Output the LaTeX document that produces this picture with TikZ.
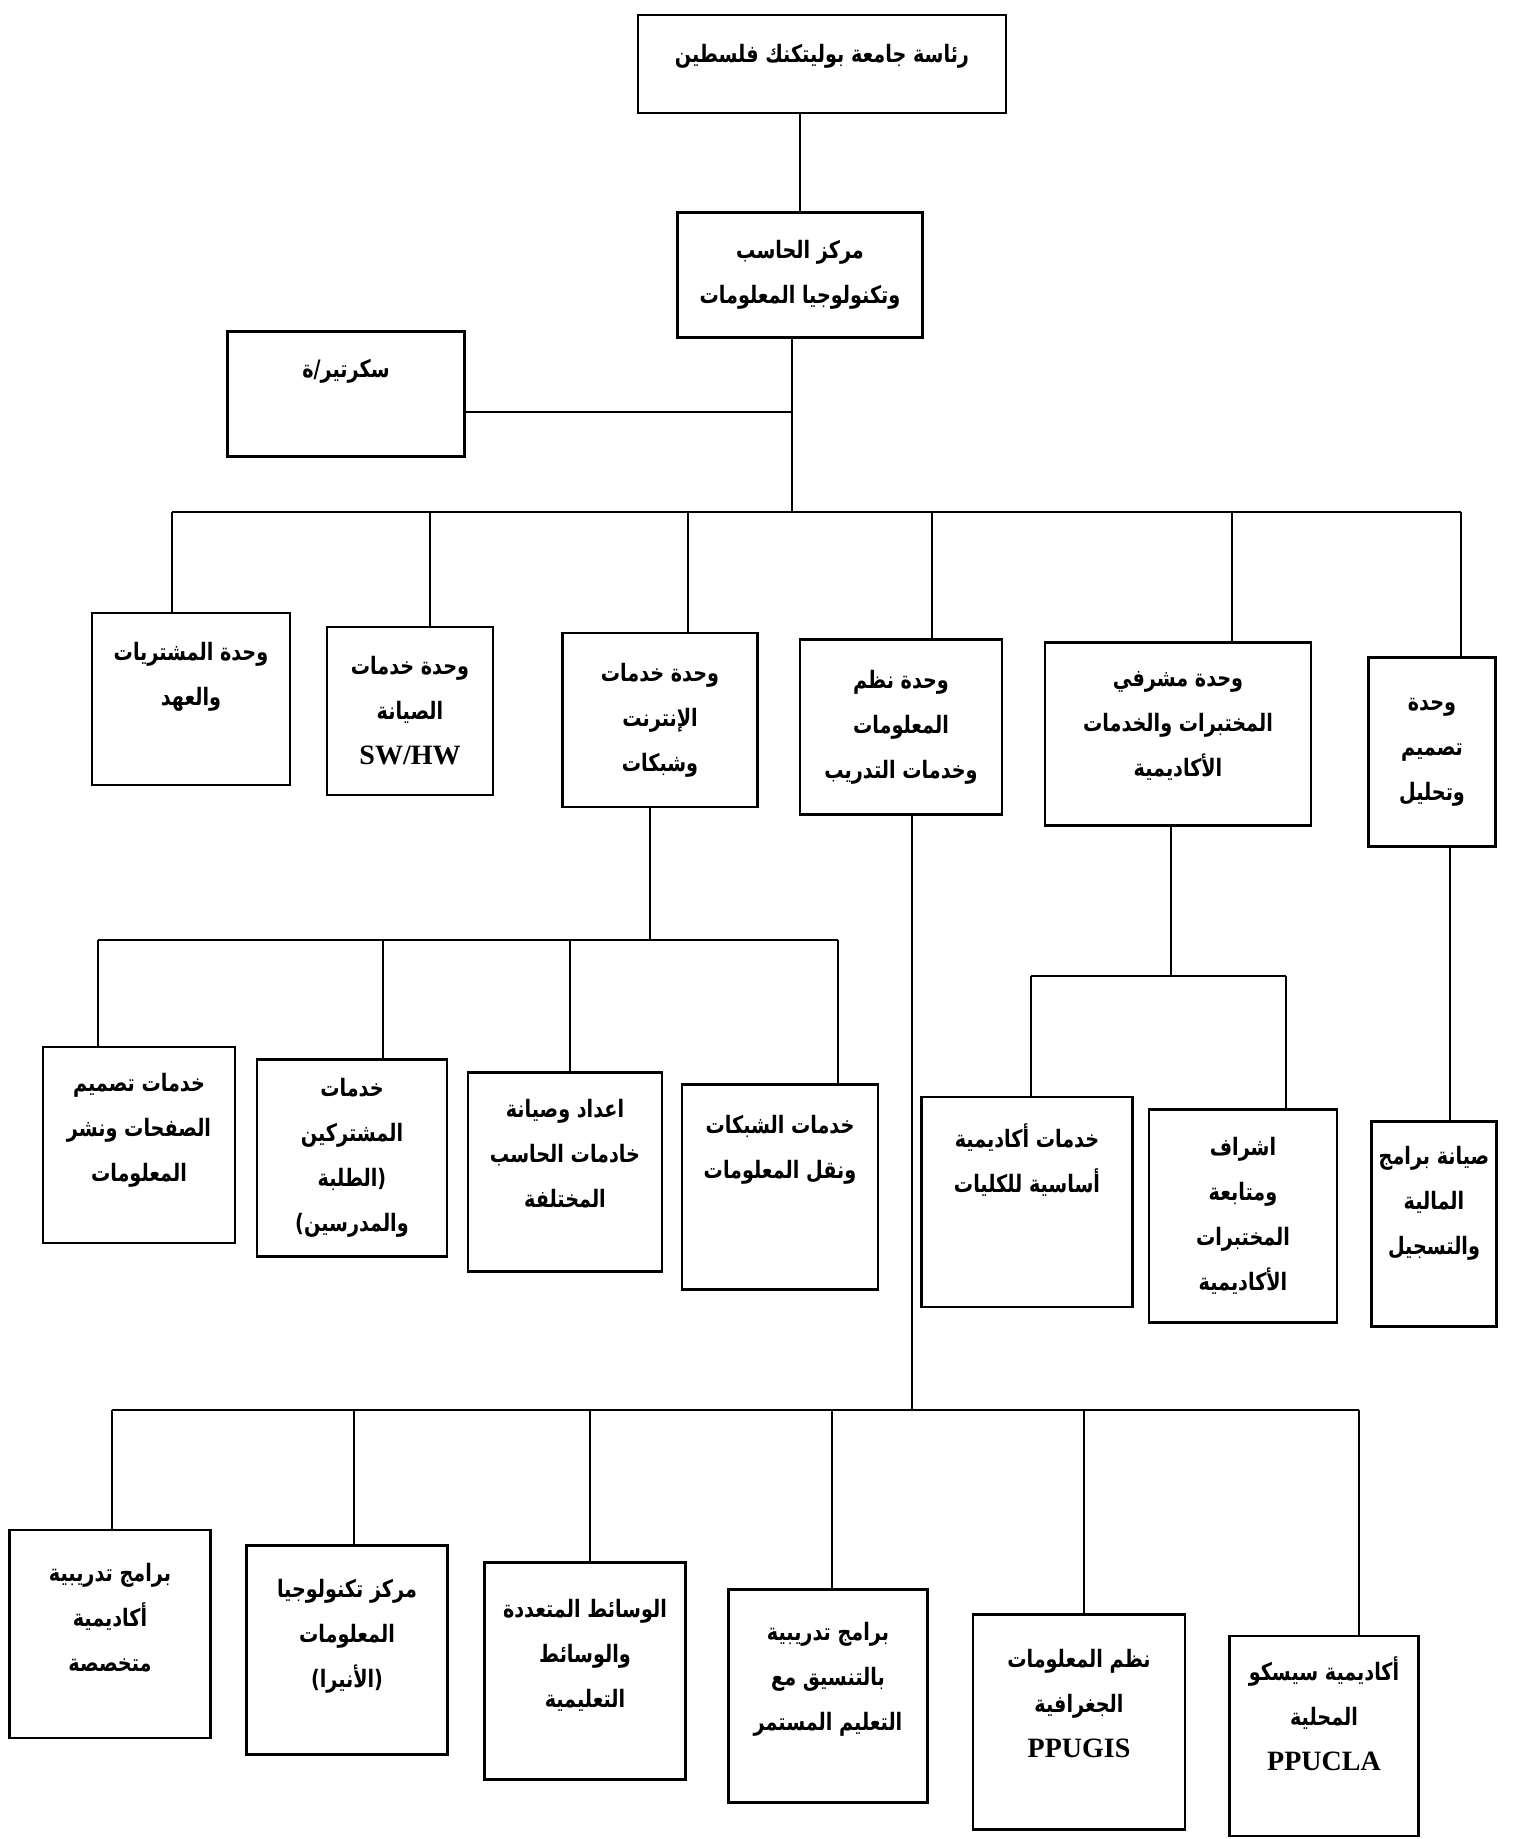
\documentclass[tikz,border=0pt]{standalone}
\usepackage{fontspec}
\setmainfont{DejaVu Sans}
\newfontfamily\arabicfont[Script=Arabic, FakeStretch=0.8]{DejaVu Sans}
\newfontfamily\latinfont{Liberation Serif}
\TeXXeTstate=1
\newcommand{\ar}[1]{\beginR #1\endR}
\newcommand{\lat}[1]{{\latinfont\fontsize{28}{45}\selectfont #1}}
\tikzset{
  unit/.style={draw, line width=2.5pt, align=center, inner sep=4pt,
    font=\arabicfont\bfseries\fontsize{24}{45}\selectfont},
  lift/.style={text depth=#1},
  link/.style={line width=2pt}
}

\begin{document}
\begin{tikzpicture}[x=1pt,y=-1pt]
\useasboundingbox (0,0) rectangle (1514,1839);
% top of the chart
\node[unit, minimum width=368pt, minimum height=98pt, lift=22pt] (top) at (822,64) {\ar{رئاسة جامعة بوليتكنك فلسطين}};
\node[unit, minimum width=245pt, minimum height=125pt] (ctr) at (800,275) {\ar{مركز الحاسب}\\\ar{وتكنولوجيا المعلومات}};
\node[unit, minimum width=237pt, minimum height=125pt, lift=52pt] (sec) at (346,394) {\ar{سكرتير/ة}};

% units
\node[unit, minimum width=198pt, minimum height=172pt, lift=50pt] (pur) at (191,699) {\ar{وحدة المشتريات}\\\ar{والعهد}};
\node[unit, minimum width=166pt, minimum height=168pt] (mnt) at (410,711) {\ar{وحدة خدمات}\\\ar{الصيانة}\\\lat{SW/HW}};
\node[unit, minimum width=195pt, minimum height=174pt] (net) at (660,720) {\ar{وحدة خدمات}\\\ar{الإنترنت}\\\ar{وشبكات}};
\node[unit, minimum width=202pt, minimum height=175pt] (nis) at (901,727) {\ar{وحدة نظم}\\\ar{المعلومات}\\\ar{وخدمات التدريب}};
\node[unit, minimum width=266pt, minimum height=183pt, lift=20pt] (msh) at (1178,734) {\ar{وحدة مشرفي}\\\ar{المختبرات والخدمات}\\\ar{الأكاديمية}};
\node[unit, minimum width=127pt, minimum height=189pt] (tsm) at (1432,752) {\ar{وحدة}\\\ar{تصميم}\\\ar{وتحليل}};

% under internet unit
\node[unit, minimum width=192pt, minimum height=196pt, lift=36pt] (web) at (139,1145) {\ar{خدمات تصميم}\\\ar{الصفحات ونشر}\\\ar{المعلومات}};
\node[unit, minimum width=190pt, minimum height=197pt] (sub) at (352,1158) {\ar{خدمات}\\\ar{المشتركين}\\\ar{(الطلبة}\\\ar{والمدرسين)}};
\node[unit, minimum width=194pt, minimum height=199pt, lift=38pt] (srv) at (565,1172) {\ar{اعداد وصيانة}\\\ar{خادمات الحاسب}\\\ar{المختلفة}};
\node[unit, minimum width=196pt, minimum height=205pt, lift=80pt] (nw) at (780,1187) {\ar{خدمات الشبكات}\\\ar{ونقل المعلومات}};

% under labs unit
\node[unit, minimum width=211pt, minimum height=210pt, lift=88pt] (aca) at (1027,1202) {\ar{خدمات أكاديمية}\\\ar{أساسية للكليات}};
\node[unit, minimum width=188pt, minimum height=213pt] (sup) at (1243,1216) {\ar{اشراف}\\\ar{ومتابعة}\\\ar{المختبرات}\\\ar{الأكاديمية}};
\node[unit, minimum width=125pt, minimum height=205pt, lift=48pt] (fin) at (1434,1224) {\ar{صيانة برامج}\\\ar{المالية}\\\ar{والتسجيل}};

% under information systems unit
\node[unit, minimum width=201pt, minimum height=208pt, lift=34pt] (trn) at (110,1634) {\ar{برامج تدريبية}\\\ar{أكاديمية}\\\ar{متخصصة}};
\node[unit, minimum width=201pt, minimum height=209pt, lift=34pt] (itc) at (347,1650) {\ar{مركز تكنولوجيا}\\\ar{المعلومات}\\\ar{(الأنيرا)}};
\node[unit, minimum width=201pt, minimum height=217pt, lift=36pt] (med) at (585,1671) {\ar{الوسائط المتعددة}\\\ar{والوسائط}\\\ar{التعليمية}};
\node[unit, minimum width=199pt, minimum height=213pt, lift=40pt] (ccp) at (828,1696) {\ar{برامج تدريبية}\\\ar{بالتنسيق مع}\\\ar{التعليم المستمر}};
\node[unit, minimum width=212pt, minimum height=215pt, lift=38pt] (gis) at (1079,1722) {\ar{نظم المعلومات}\\\ar{الجغرافية}\\\lat{PPUGIS}};
\node[unit, minimum width=189pt, minimum height=200pt, lift=44pt] (cis) at (1324,1736) {\ar{أكاديمية سيسكو}\\\ar{المحلية}\\\lat{PPUCLA}};

% connectors
\coordinate (hub) at (792,512);
\coordinate (secj) at (792,412);
\draw[link] (top.south -| ctr.north) -- (ctr.north);
\draw[link] (ctr.south -| hub) -- (hub);
\draw[link] (secj -| sec.east) -- (secj);
\coordinate (busA) at (172,512);
\coordinate (busB) at (1461,512);
\draw[link] (busA) -- (busB);
\foreach \x/\n in {172/pur,430/mnt,688/net,932/nis,1232/msh,1461/tsm}
  \draw[link] (\x,512) -- (\n.north -| \x,0);

\coordinate (busC) at (98,940);
\coordinate (busD) at (838,940);
\draw[link] (net.south -| 650,0) -- (650,940);
\draw[link] (busC) -- (busD);
\foreach \x/\n in {98/web,383/sub,570/srv,838/nw}
  \draw[link] (\x,940) -- (\n.north -| \x,0);

\coordinate (busE) at (1031,976);
\coordinate (busF) at (1286,976);
\draw[link] (msh.south -| 1171,0) -- (1171,976);
\draw[link] (busE) -- (busF);
\foreach \x/\n in {1031/aca,1286/sup}
  \draw[link] (\x,976) -- (\n.north -| \x,0);
\draw[link] (tsm.south -| 1450,0) -- (fin.north -| 1450,0);

\coordinate (busG) at (112,1410);
\coordinate (busH) at (1359,1410);
\draw[link] (nis.south -| 912,0) -- (912,1410);
\draw[link] (busG) -- (busH);
\foreach \x/\n in {112/trn,354/itc,590/med,832/ccp,1084/gis,1359/cis}
  \draw[link] (\x,1410) -- (\n.north -| \x,0);
\end{tikzpicture}
\end{document}
